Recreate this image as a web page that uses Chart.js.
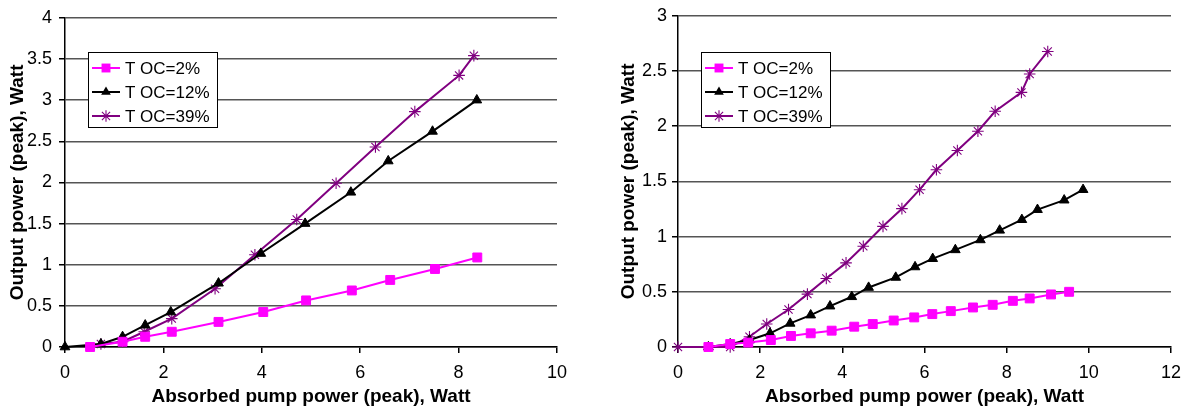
<!DOCTYPE html>
<html>
<head>
<meta charset="utf-8">
<script src="https://cdn.jsdelivr.net/npm/chart.js@4/dist/chart.umd.min.js"></script>
<style>
  html, body { margin: 0; padding: 0; background: #fff; }
  #wrap { position: relative; width: 1185px; height: 411px; }
  canvas { position: absolute; top: 0; }
</style>
</head>
<body>
<div id="wrap">
  <canvas id="chartLeft" width="592" height="411" style="left:0"></canvas>
  <canvas id="chartRight" width="593" height="411" style="left:592px"></canvas>
</div>
<script>
// series names
const seriesNames = ['T OC=2%', 'T OC=12%', 'T OC=39%'];

// left chart
const leftX2 = [0.51, 1.17, 1.63, 2.17, 3.12, 4.03, 4.90, 5.83, 6.61, 7.52, 8.38];
const leftY2 = [0, 0.064, 0.124, 0.185, 0.305, 0.425, 0.566, 0.687, 0.815, 0.948, 1.088];
const leftX12 = [0, 0.73, 1.17, 1.63, 2.15, 3.12, 3.98, 4.88, 5.81, 6.57, 7.47, 8.37];
const leftY12 = [0, 0.036, 0.124, 0.265, 0.425, 0.775, 1.136, 1.50, 1.88, 2.26, 2.62, 3.0];
const leftX39 = [0.73, 1.17, 1.61, 2.17, 3.05, 3.86, 4.71, 5.51, 6.31, 7.11, 8.01, 8.31];
const leftY39 = [0.036, 0.064, 0.185, 0.345, 0.707, 1.12, 1.55, 1.99, 2.43, 2.86, 3.30, 3.54];
const leftXTicks = [0, 2, 4, 6, 8, 10];
const leftYTicks = [0, 0.5, 1, 1.5, 2, 2.5, 3, 3.5, 4];

// right chart
const rightX2 = [0.74, 1.27, 1.71, 2.26, 2.75, 3.23, 3.74, 4.29, 4.74, 5.25, 5.75, 6.19, 6.64, 7.18, 7.66, 8.15, 8.56, 9.08, 9.52];
const rightY2 = [0, 0.027, 0.04, 0.063, 0.1, 0.124, 0.148, 0.184, 0.208, 0.24, 0.268, 0.298, 0.325, 0.358, 0.382, 0.418, 0.44, 0.476, 0.50];
const rightX12 = [0.74, 1.27, 1.74, 2.24, 2.73, 3.23, 3.70, 4.23, 4.64, 5.30, 5.77, 6.20, 6.75, 7.36, 7.83, 8.37, 8.75, 9.40, 9.86];
const rightY12 = [0, 0.027, 0.063, 0.124, 0.214, 0.289, 0.37, 0.455, 0.539, 0.63, 0.725, 0.80, 0.88, 0.97, 1.057, 1.153, 1.244, 1.33, 1.425];
const rightX39 = [0, 1.27, 1.74, 2.16, 2.69, 3.15, 3.61, 4.09, 4.51, 4.99, 5.45, 5.88, 6.29, 6.80, 7.30, 7.72, 8.36, 8.56, 9.0];
const rightY39 = [0, 0, 0.093, 0.208, 0.34, 0.479, 0.62, 0.762, 0.912, 1.093, 1.253, 1.425, 1.605, 1.78, 1.954, 2.135, 2.306, 2.473, 2.677];
const rightXTicks = [0, 2, 4, 6, 8, 10, 12];
const rightYTicks = [0, 0.5, 1, 1.5, 2, 2.5, 3];

const xTitle = 'Absorbed pump power (peak), Watt';
const yTitle = 'Output power (peak), Watt';

const FONT = "Arial, 'Liberation Sans', Helvetica, sans-serif";

function pts(xs, ys) {
  return xs.map((x, i) => ({ x: x, y: ys[i] }));
}

function makeDatasets(x2, y2, x12, y12, x39, y39) {
  return [
    {
      label: seriesNames[0], data: pts(x2, y2),
      borderColor: '#ff00ff', backgroundColor: '#ff00ff',
      pointStyle: 'rect', pointRadius: 6.3, pointBorderWidth: 1
    },
    {
      label: seriesNames[1], data: pts(x12, y12),
      borderColor: '#000000', backgroundColor: '#000000',
      pointStyle: 'triangle', pointRadius: 5.6, pointBorderWidth: 1
    },
    {
      label: seriesNames[2], data: pts(x39, y39),
      borderColor: '#800080', backgroundColor: '#800080',
      pointStyle: 'star', pointRadius: 5.8, pointBorderWidth: 1.1
    }
  ].map(ds => Object.assign(ds, { borderWidth: 2, tension: 0, clip: false, showLine: true }));
}

// legend marker, drawn by hand
function marker(ctx, style, r, x, y) {
  ctx.beginPath();
  if (style === 'rect') {
    const s = r * Math.SQRT1_2;
    ctx.rect(x - s, y - s, 2 * s, 2 * s);
    ctx.fill();
  } else if (style === 'triangle') {
    ctx.moveTo(x, y - r);
    ctx.lineTo(x + r * 0.866, y + r / 2);
    ctx.lineTo(x - r * 0.866, y + r / 2);
    ctx.closePath();
    ctx.fill();
  } else {
    for (let a = 0; a < 4; a++) {
      const ang = a * Math.PI / 4;
      ctx.moveTo(x - Math.cos(ang) * r, y - Math.sin(ang) * r);
      ctx.lineTo(x + Math.cos(ang) * r, y + Math.sin(ang) * r);
    }
    ctx.lineWidth = 1.1;
    ctx.stroke();
  }
}

// boxed legend inside the plot, upper left
const boxLegend = {
  id: 'boxLegend',
  afterDatasetsDraw(chart) {
    const ctx = chart.ctx;
    const area = chart.chartArea;
    const bx = Math.round(area.left + 23), by = 52, bw = 129, bh = 75;
    ctx.save();
    ctx.fillStyle = '#fff';
    ctx.fillRect(bx, by, bw, bh);
    ctx.strokeStyle = '#000';
    ctx.lineWidth = 1;
    ctx.strokeRect(bx + 0.5, by + 0.5, bw, bh);
    ctx.font = '17px ' + FONT;
    ctx.textBaseline = 'middle';
    chart.data.datasets.forEach((ds, i) => {
      const cy = by + 16 + i * 24;
      ctx.strokeStyle = ds.borderColor;
      ctx.fillStyle = ds.backgroundColor;
      ctx.lineWidth = 2;
      ctx.beginPath();
      ctx.moveTo(bx + 4, cy);
      ctx.lineTo(bx + 32, cy);
      ctx.stroke();
      marker(ctx, ds.pointStyle, ds.pointRadius, bx + 18, cy);
      ctx.fillStyle = '#000';
      ctx.fillText(ds.label, bx + 37, cy + 1);
    });
    ctx.restore();
  }
};

function makeChart(id, datasets, xMax, yMax, xTicks, yTicks, axisW, padRight, yTitlePad, yTickPad) {
  return new Chart(document.getElementById(id), {
    type: 'line',
    data: { datasets: datasets },
    plugins: [boxLegend],
    options: {
      responsive: false,
      animation: false,
      layout: { padding: { top: 15, right: padRight, left: 0, bottom: 0 } },
      plugins: { legend: { display: false }, tooltip: { enabled: false } },
      scales: {
        x: {
          type: 'linear', min: 0, max: xMax,
          afterBuildTicks: s => { s.ticks = xTicks.map(v => ({ value: v })); },
          afterFit: s => { s.height = 64; s.paddingRight = 0; s.paddingLeft = 0; },
          grid: { drawOnChartArea: false, drawTicks: true, tickLength: 6, color: '#000', lineWidth: 1.5 },
          border: { color: '#000', width: 1.5 },
          ticks: { color: '#000', padding: 9, font: { family: FONT, size: 18 }, maxRotation: 0,
                   callback: v => String(v) },
          title: { display: true, text: xTitle, color: '#000', padding: { top: 0, bottom: 3 },
                   font: { family: FONT, size: 19, weight: 'bold' } }
        },
        y: {
          type: 'linear', min: 0, max: yMax,
          afterBuildTicks: s => { s.ticks = yTicks.map(v => ({ value: v })); },
          afterFit: s => { s.width = axisW; },
          grid: { color: '#555555', lineWidth: 1.5, tickLength: 6, tickColor: '#000' },
          border: { color: '#000', width: 1.5 },
          ticks: { color: '#000', padding: yTickPad, font: { family: FONT, size: 18 },
                   callback: v => String(v) },
          title: { display: true, text: yTitle, color: '#000', padding: { top: yTitlePad, bottom: 0 },
                   font: { family: FONT, size: 19, weight: 'bold' } }
        }
      }
    }
  });
}

makeChart('chartLeft', makeDatasets(leftX2, leftY2, leftX12, leftY12, leftX39, leftY39),
  10, 4, leftXTicks, leftYTicks, 65, 35, 6, 7);
makeChart('chartRight', makeDatasets(rightX2, rightY2, rightX12, rightY12, rightX39, rightY39),
  12, 3, rightXTicks, rightYTicks, 86, 14, 25, 5);
</script>
</body>
</html>
